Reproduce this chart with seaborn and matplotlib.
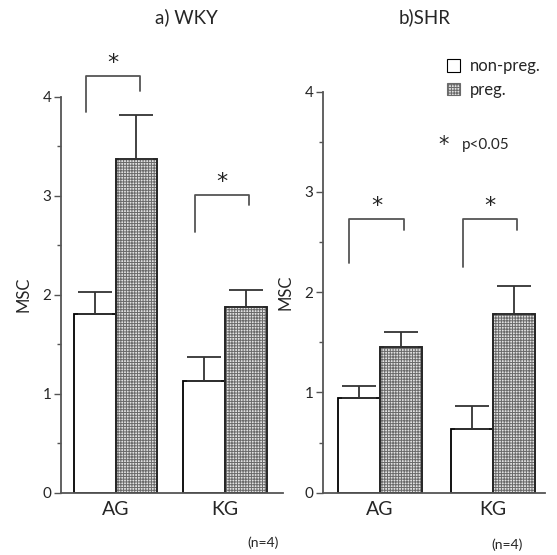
import numpy as np
import pandas as pd
import matplotlib
matplotlib.use("Agg")
import matplotlib.pyplot as plt
import seaborn as sns
from matplotlib.patches import Patch
from matplotlib.ticker import MultipleLocator

# datos
ganglios = ["AG", "KG"]
grupos = ["non-preg.", "preg."]

wky_media = [1.80, 3.37, 1.13, 1.88]   # AG np, AG p, KG np, KG p
wky_error = [0.23, 0.45, 0.24, 0.17]
shr_media = [0.94, 1.45, 0.64, 1.78]
shr_error = [0.12, 0.15, 0.22, 0.28]

# corchetes de significancia: (base izq, altura, base der)
wky_corchetes = [(3.85, 4.21, 4.06), (2.63, 3.01, 2.91)]
shr_corchetes = [(2.29, 2.73, 2.62), (2.25, 2.73, 2.62)]

sns.set_style("white")
plt.rcParams['font.family'] = ['Lato', 'DejaVu Sans']
plt.rcParams['hatch.linewidth'] = 0.7

GRIS = '#555555'
RELLENO = '#e2e2e2'
TRAMA = '#6a6a6a'


def armar_df(medias):
    filas = []
    i = 0
    for g in ganglios:
        for h in grupos:
            filas.append({'ganglio': g, 'grupo': h, 'MSC': medias[i]})
            i += 1
    return pd.DataFrame(filas)


def dibujar_panel(ax, medias, errores, corchetes, ancho, xlim, ylim_top):
    df = armar_df(medias)
    sns.barplot(data=df, x='ganglio', y='MSC', hue='grupo', order=ganglios,
                hue_order=grupos, width=ancho, errorbar=None, ax=ax,
                palette=['white', RELLENO], edgecolor='black', linewidth=1.3,
                legend=False)
    barras = list(ax.containers)
    # relleno cuadriculado para preg.
    for barra in barras[1]:
        barra.set_hatch('++++++')
        barra.set_edgecolor(TRAMA)
        barra.set_linewidth(1.3)
        # borde negro encima de la trama
        ax.add_patch(plt.Rectangle((barra.get_x(), 0), barra.get_width(),
                                   barra.get_height(), fill=False,
                                   edgecolor='#222222', lw=1.3))
    # errores solo hacia arriba
    for h, cont in enumerate(barras):
        for k, barra in enumerate(cont):
            idx = k * 2 + h
            xc = barra.get_x() + barra.get_width() / 2
            ax.errorbar(xc, medias[idx], yerr=[[0], [errores[idx]]], fmt='none',
                        ecolor='#333333', elinewidth=1.3, capsize=12, capthick=1.3)
    # corchetes con asterisco
    for k, (b1, alto, b2) in enumerate(corchetes):
        x1 = barras[0][k].get_x() + barras[0][k].get_width() * 0.28
        x2 = barras[1][k].get_x() + barras[1][k].get_width() * 0.58
        ax.plot([x1, x1, x2, x2], [b1, alto, alto, b2], color=GRIS, lw=1.3,
                clip_on=False)
        ax.text((x1 + x2) / 2, alto + 0.13, '*', ha='center', va='center',
                fontsize=16, color='#222222', clip_on=False,
                family='DejaVu Sans')
    ax.set_xlim(*xlim)
    ax.set_ylim(0, ylim_top)
    ax.yaxis.set_major_locator(MultipleLocator(1))
    ax.yaxis.set_minor_locator(MultipleLocator(0.5))
    ax.tick_params(axis='y', which='major', direction='out', length=5, width=1,
                   color=GRIS, labelsize=11, pad=2, left=True)
    ax.tick_params(axis='y', which='minor', direction='out', length=3, width=1,
                   color=GRIS, left=True)
    ax.tick_params(axis='x', length=0, labelsize=14, pad=6)
    for lado in ['top', 'right']:
        ax.spines[lado].set_visible(False)
    for lado in ['left', 'bottom']:
        ax.spines[lado].set_color(GRIS)
        ax.spines[lado].set_linewidth(1.3)
    ax.set_xlabel('')
    ax.set_ylabel('MSC', fontsize=12, labelpad=8)


fig = plt.figure(figsize=(5.57, 5.55), dpi=100)
ax1 = fig.add_axes([0.1095, 0.1123, 0.3986, 0.7135])
ax2 = fig.add_axes([0.5799, 0.1123, 0.3986, 0.7225])

dibujar_panel(ax1, wky_media, wky_error, wky_corchetes, 0.76, (-0.5, 1.53), 4)
dibujar_panel(ax2, shr_media, shr_error, shr_corchetes, 0.74, (-0.5, 1.46), 4)

fig.text(0.334, 0.969, 'a) WKY', ha='center', va='center', fontsize=13.5)
fig.text(0.763, 0.969, 'b)SHR', ha='center', va='center', fontsize=13.5)
fig.text(0.473, 0.022, '(n=4)', ha='center', va='center', fontsize=10)
fig.text(0.911, 0.018, '(n=4)', ha='center', va='center', fontsize=10)

# leyenda
manijas = [Patch(facecolor='white', edgecolor='black', linewidth=0.8),
           Patch(facecolor=RELLENO, edgecolor=TRAMA, hatch='++++++', linewidth=0.8)]
ax2.legend(manijas, grupos, loc='upper left', bbox_to_anchor=(0.53, 1.10),
           frameon=False, fontsize=12, handlelength=0.75, handleheight=0.75,
           handletextpad=0.6, labelspacing=0.45, borderaxespad=0)
fig.text(0.797, 0.738, '*', ha='center', va='center', fontsize=15,
         family='DejaVu Sans')
fig.text(0.830, 0.738, 'p<0.05', ha='left', va='center', fontsize=11)

fig.savefig('out.png', dpi=100)
